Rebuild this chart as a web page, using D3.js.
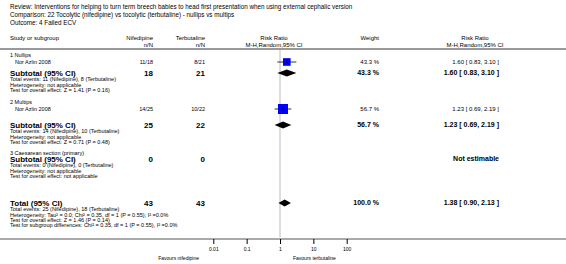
<!DOCTYPE html>
<html>
<head>
<meta charset="utf-8">
<script src="https://cdn.jsdelivr.net/npm/d3@7"></script>
<style>
  body { margin: 0; background: #fff; }
  svg text { font-family: "Liberation Sans", Arial, sans-serif; fill: #000; }
</style>
</head>
<body>
<svg id="chart" width="566" height="264"></svg>
<script>
// chart data
const titleLines = [
    "Review:  Interventions for helping to turn term breech babies to head first presentation when using external cephalic version",
    "Comparison:  22 Tocolytic (nifedipine) vs tocolytic (terbutaline) - nullips vs multips",
    "Outcome:  4 Failed ECV"
];
const subgroupLabels = ["1 Nullips", "2 Multips", "3 Caesarean section (primary)"];
const studyNames = ["Nor Azlin 2008", "Nor Azlin 2008", null];
const nifEvents = [11, 14, 0];
const nifTotal = [18, 25, 0];
const terEvents = [8, 10, 0];
const terTotal = [21, 22, 0];
const riskRatio = [1.60, 1.23, null];
const ciLow = [0.83, 0.69, null];
const ciHigh = [3.10, 2.19, null];
const weights = [43.3, 56.7, null];
const overallEffect = ["Z = 1.41 (P = 0.16)", "Z = 0.71 (P = 0.48)", "not applicable"];
const totalN = [43, 43];
const totalEvents = [25, 18];
const totalRR = [1.38, 0.90, 2.13];
const totalWeight = 100.0;
const totalNotes = [
    "Total events: 25 (Nifedipine), 18 (Terbutaline)",
    "Heterogeneity: Tau\u00b2 = 0.0; Chi\u00b2 = 0.35, df = 1 (P = 0.55); I\u00b2 =0.0%",
    "Test for overall effect: Z = 1.46 (P = 0.14)",
    "Test for subgroup differences: Chi\u00b2 = 0.35, df = 1 (P = 0.55), I\u00b2 =0.0%"
];
const tickValues = [0.01, 0.1, 1, 10, 100];
const favours = ["Favours nifedipine", "Favours terbutaline"];

// layout (row centres)
const groupY = [55, 102, 153];
const studyY = [62, 109, null];
const subtotalY = [73, 125, 159];
const noteStep = 5.2;
const totalY = 203;
const axisY = 239;

const svg = d3.select("#chart");
const col = { left: 10, study: 15, nif: 153, ter: 205, weight: 379, rr: 499, rrHead: 475, plotHead: 274 };
const x = d3.scaleLog().domain([0.01, 100]).range([213.3, 346.7]);
const boxSize = d3.scaleLinear().domain([0, 56.7]).range([0, 10]);
const fmt2 = d3.format(".2f");

function txt (xp, yp, s, size, opts) {
    opts = opts || {};
    return svg.append("text")
        .attr("x", xp)
        .attr("y", yp)
        .attr("dy", "0.35em")
        .attr("font-size", size)
        .attr("font-weight", opts.bold ? "bold" : null)
        .attr("text-anchor", opts.anchor || "start")
        .text(s);
}

function ciText (r, l, h) {
    return fmt2(r) + " [ " + fmt2(l) + ", " + fmt2(h) + " ]";
}

function diamond (y, r, l, h) {
    const hh = 3.5;
    svg.append("path")
        .attr("d", "M" + x(l) + "," + y + "L" + x(r) + "," + (y - hh) + "L" + x(h) + "," + y + "L" + x(r) + "," + (y + hh) + "Z")
        .attr("fill", "#000");
}

svg.append("rect").attr("width", 566).attr("height", 264).attr("fill", "#fff");

// title block
titleLines.forEach((t, i) => txt(10, 7 + i * 7.7, t, 6.3));

// column headers
txt(col.left, 38, "Study or subgroup", 6);
txt(col.nif, 38, "Nifedipine", 6, {anchor: "end"});
txt(col.nif, 44.5, "n/N", 6, {anchor: "end"});
txt(col.ter, 38, "Terbutaline", 6, {anchor: "end"});
txt(col.ter, 44.5, "n/N", 6, {anchor: "end"});
txt(col.plotHead, 38, "Risk Ratio", 6, {anchor: "middle"});
txt(col.plotHead, 44.5, "M-H,Random,95% CI", 6, {anchor: "middle"});
txt(col.weight, 38, "Weight", 6, {anchor: "end"});
txt(col.rrHead, 38, "Risk Ratio", 6, {anchor: "middle"});
txt(col.rrHead, 44.5, "M-H,Random,95% CI", 6, {anchor: "middle"});

svg.append("line")
    .attr("x1", 0).attr("x2", 566)
    .attr("y1", 49).attr("y2", 49)
    .attr("stroke", "#999").attr("stroke-width", 2);

// line of no effect
svg.append("line")
    .attr("x1", x(1)).attr("x2", x(1))
    .attr("y1", 50).attr("y2", axisY - 2)
    .attr("stroke", "#ddd").attr("stroke-width", 2);

// subgroups
subgroupLabels.forEach((g, i) => {
    txt(col.left, groupY[i], g, 5.5);
    if (studyNames[i]) {
        const sy = studyY[i];
        txt(col.study, sy, studyNames[i], 5.5);
        txt(col.nif, sy, nifEvents[i] + "/" + nifTotal[i], 5.5, {anchor: "end"});
        txt(col.ter, sy, terEvents[i] + "/" + terTotal[i], 5.5, {anchor: "end"});
        txt(col.weight, sy, weights[i].toFixed(1) + " %", 6, {anchor: "end"});
        txt(col.rr, sy, ciText(riskRatio[i], ciLow[i], ciHigh[i]), 6, {anchor: "end"});

        svg.append("line")
            .attr("x1", x(ciLow[i])).attr("x2", x(ciHigh[i]))
            .attr("y1", sy).attr("y2", sy)
            .attr("stroke", "#000").attr("stroke-width", 0.8);
        const s = boxSize(weights[i]);
        svg.append("rect")
            .attr("x", x(riskRatio[i]) - s / 2)
            .attr("y", sy - s / 2)
            .attr("width", s).attr("height", s)
            .attr("fill", "#0000ff");
        svg.append("line")
            .attr("x1", x(riskRatio[i])).attr("x2", x(riskRatio[i]))
            .attr("y1", sy - 1.5).attr("y2", sy + 1.5)
            .attr("stroke", "#000").attr("stroke-width", 0.8);
    }

    const ty = subtotalY[i];
    txt(col.left, ty, "Subtotal (95% CI)", 8, {bold: true});
    txt(col.nif, ty, nifTotal[i], 8, {bold: true, anchor: "end"});
    txt(col.ter, ty, terTotal[i], 8, {bold: true, anchor: "end"});
    if (riskRatio[i] != null) {
        txt(col.weight, ty, weights[i].toFixed(1) + " %", 7, {bold: true, anchor: "end"});
        txt(col.rr, ty, ciText(riskRatio[i], ciLow[i], ciHigh[i]), 7, {bold: true, anchor: "end"});
        diamond(ty, riskRatio[i], ciLow[i], ciHigh[i]);
    } else {
        txt(col.rr, ty, "Not estimable", 7, {bold: true, anchor: "end"});
    }
    const notes = [
        "Total events: " + nifEvents[i] + " (Nifedipine), " + terEvents[i] + " (Terbutaline)",
        "Heterogeneity: not applicable",
        "Test for overall effect: " + overallEffect[i]
    ];
    notes.forEach((n, j) => txt(col.left, ty + 6.5 + j * noteStep, n, 5.5));
});

// overall total
txt(col.left, totalY, "Total (95% CI)", 8, {bold: true});
txt(col.nif, totalY, totalN[0], 8, {bold: true, anchor: "end"});
txt(col.ter, totalY, totalN[1], 8, {bold: true, anchor: "end"});
txt(col.weight, totalY, totalWeight.toFixed(1) + " %", 7, {bold: true, anchor: "end"});
txt(col.rr, totalY, ciText(totalRR[0], totalRR[1], totalRR[2]), 7, {bold: true, anchor: "end"});
diamond(totalY, totalRR[0], totalRR[1], totalRR[2]);
totalNotes.forEach((n, j) => txt(col.left, totalY + 6.5 + j * noteStep, n, 5.5));

// bottom rule and axis
svg.append("line")
    .attr("x1", 0).attr("x2", 566)
    .attr("y1", axisY).attr("y2", axisY)
    .attr("stroke", "#555").attr("stroke-width", 1);

const axis = svg.append("g")
    .attr("transform", "translate(0," + axisY + ")")
    .call(d3.axisBottom(x).tickValues(tickValues).tickFormat(d3.format("~g")).tickSize(5).tickPadding(3).tickSizeOuter(0));
axis.select(".domain").remove();
axis.selectAll("text")
    .attr("font-size", 5)
    .attr("font-family", "Liberation Sans, Arial, sans-serif");

txt(199, 258, favours[0], 5, {anchor: "end"});
txt(293, 258, favours[1], 5);
</script>
</body>
</html>
